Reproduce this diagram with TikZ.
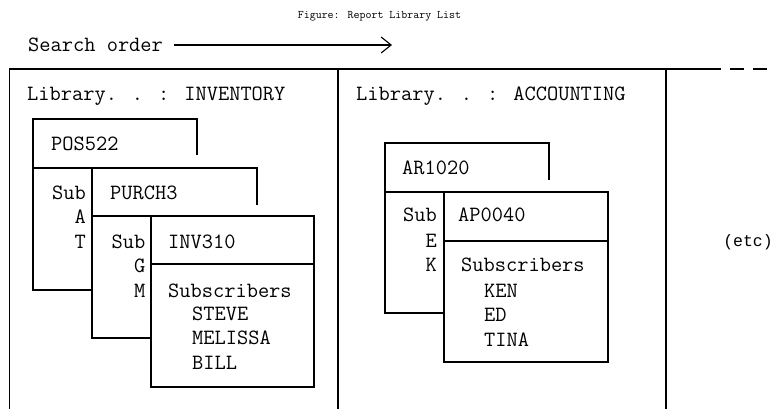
\documentclass[tikz,border=0pt]{standalone}
\usepackage{fontspec}
\newfontfamily\etcfont{Liberation Mono}
\usetikzlibrary{arrows.meta}
\begin{document}
\begin{tikzpicture}[x=1pt,y=-1pt,
  frame/.style={line width=1.3pt,line cap=rect},
  boxline/.style={line width=1.3pt,line join=miter},
  txt/.style={inner sep=0pt,anchor=base west,font=\ttfamily\fontsize{21.8}{26}\selectfont},
  rtxt/.style={txt,anchor=base east},
  ttl/.style={inner sep=0pt,font=\ttfamily\fontsize{11.6}{13}\selectfont}]
\useasboundingbox (0,0) rectangle (774,409);
% title and search order
\node[ttl] (title) at (379.5,16) {Figure: Report Library List};
\node[txt] (search) at (28,52) {Search order};
\coordinate (arrowend) at (392,45);
\draw[line width=1.1pt,-{Straight Barb[length=10pt,width=16pt,line width=1.1pt]}] ([xshift=11pt]search.east |- arrowend) -- (arrowend);
% outer frame
\draw[frame] (9.5,409) -- (9.5,69) -- (720,69);
\draw[frame,line cap=butt] (730,69) -- (744,69) (753,69) -- (767,69);
\draw[frame] (338,69) -- (338,409);
\draw[frame] (666,69) -- (666,409);
% library headers
\node[txt] (lib1) at (27,101) {Library. . : INVENTORY};
\node[txt] (lib2) at (356,101) {Library. . : ACCOUNTING};
% ---- left column boxes
\draw[boxline] (92,290) -- (33,290) -- (33,119) -- (197,119) -- (197,155);
\draw[boxline] (33,168) -- (257,168) -- (257,205);
\draw[boxline] (151,338) -- (92,338) -- (92,168);
\draw[boxline] (92,216) -- (314,216) -- (314,387) -- (151,387) -- (151,216);
\draw[boxline] (151,264) -- (314,264);
\node[txt] (pos) at (51,150) {POS522};
\node[rtxt] (sub1) at (86,199) {Sub};
\node[rtxt] (a1) at (86,223.5) {A};
\node[rtxt] (t1) at (86,248) {T};
\node[txt] (purch) at (110,199) {PURCH3};
\node[rtxt] (sub2) at (145.5,248) {Sub};
\node[rtxt] (g2) at (145.5,272.5) {G};
\node[rtxt] (m2) at (145.5,297) {M};
\node[txt] (inv) at (168,248) {INV310};
\node[txt] (subs1) at (168,297) {Subscribers};
\node[txt] (steve) at (192,320) {STEVE};
\node[txt] (melissa) at (192,344.5) {MELISSA};
\node[txt] (bill) at (192,369) {BILL};
% ---- middle column boxes
\draw[boxline] (444,313) -- (385,313) -- (385,143) -- (549,143) -- (549,180);
\draw[boxline] (385,192) -- (608,192) -- (608,362) -- (444,362) -- (444,192);
\draw[boxline] (444,241) -- (608,241);
\node[txt] (ar) at (402,175) {AR1020};
\node[rtxt] (sub3) at (437,222) {Sub};
\node[rtxt] (e3) at (437,247) {E};
\node[rtxt] (k3) at (437,271.5) {K};
\node[txt] (ap) at (458,222) {AP0040};
\node[txt] (subs2) at (461,271.5) {Subscribers};
\node[txt] (ken) at (484,297) {KEN};
\node[txt] (ed) at (484,321.5) {ED};
\node[txt] (tina) at (484,346) {TINA};
% etc
\node[inner sep=0pt,font=\etcfont\fontsize{16.5}{19}\selectfont] (etc) at (748,242) {(etc)};
\end{tikzpicture}
\end{document}
